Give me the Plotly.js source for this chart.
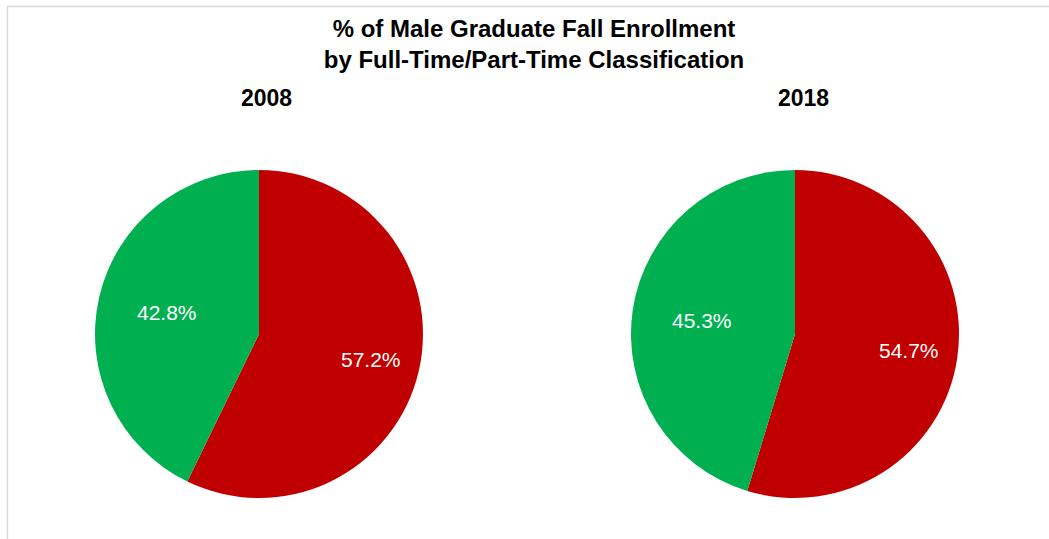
<!DOCTYPE html>
<html>
<head>
<meta charset="utf-8">
<script src="https://cdn.plot.ly/plotly-3.0.1.min.js"></script>
<style>html,body{margin:0;padding:0;background:#fff;}#chart{width:1049px;height:539px;}</style>
</head>
<body>
<div id="chart"></div>
<script>
const years = ["2008", "2018"];
const categories = ["Part-Time", "Full-Time"];
const values2008 = [57.2, 42.8];
const values2018 = [54.7, 45.3];
const colors = ["#C00000", "#00B050"];

const W = 1049, H = 539;
const R = 164;
const centers = [[259, 334], [795, 334]];
const labelRadius = [0.70, 0.575];
const FONT = "Liberation Sans, Arial, sans-serif";

function dom(cx, cy, r) {
  return { x: [(cx - r) / W, (cx + r) / W], y: [(H - cy - r) / H, (H - cy + r) / H] };
}

function pieTrace(vals, idx) {
  const c = centers[idx];
  return {
    type: "pie",
    labels: categories,
    values: vals,
    sort: false,
    direction: "clockwise",
    rotation: 0,
    marker: { colors: colors, line: { width: 0 } },
    textinfo: "none",
    hoverinfo: "label+percent",
    showlegend: false,
    name: years[idx],
    domain: dom(c[0], c[1], R)
  };
}

function labelAnnotations(vals, idx) {
  const c = centers[idx];
  const total = vals.reduce((a, b) => a + b, 0);
  let cum = 0;
  return vals.map((v, i) => {
    const mid = (cum + v / 2) / total * 2 * Math.PI;
    cum += v;
    const px = c[0] + labelRadius[i] * R * Math.sin(mid);
    const py = c[1] - labelRadius[i] * R * Math.cos(mid);
    return {
      text: v.toFixed(1) + "%",
      x: px / W, y: 1 - py / H, xref: "paper", yref: "paper",
      xanchor: "center", yanchor: "middle", showarrow: false,
      font: { size: 21, color: "#ffffff", family: FONT }
    };
  });
}

const data = [pieTrace(values2008, 0), pieTrace(values2018, 1)];

const layout = {
  width: W, height: H,
  margin: { l: 0, r: 0, t: 0, b: 0 },
  paper_bgcolor: "#ffffff",
  font: { family: FONT, color: "#000000" },
  title: {
    text: "<b>% of Male Graduate Fall Enrollment<br>by Full-Time/Part-Time Classification</b>",
    font: { size: 24, color: "#000000", family: FONT },
    x: 534 / W, xanchor: "center",
    y: 1 - 37 / H, yanchor: "top", yref: "container"
  },
  annotations: [
    { text: "<b>" + years[0] + "</b>", x: 266 / W, y: 1 - 98 / H, xref: "paper", yref: "paper", xanchor: "center", yanchor: "middle", showarrow: false, font: { size: 23, color: "#000000", family: FONT } },
    { text: "<b>" + years[1] + "</b>", x: 803 / W, y: 1 - 98 / H, xref: "paper", yref: "paper", xanchor: "center", yanchor: "middle", showarrow: false, font: { size: 23, color: "#000000", family: FONT } }
  ].concat(labelAnnotations(values2008, 0), labelAnnotations(values2018, 1)),
  shapes: [
    { type: "line", xref: "paper", yref: "paper", x0: 7.5 / W, x1: 7.5 / W, y0: 0, y1: 1 - 6 / H, line: { color: "#d9d9d9", width: 1.5 } },
    { type: "line", xref: "paper", yref: "paper", x0: 7 / W, x1: 1, y0: 1 - 6.5 / H, y1: 1 - 6.5 / H, line: { color: "#d9d9d9", width: 1.5 } }
  ]
};

Plotly.newPlot("chart", data, layout, { displayModeBar: false, staticPlot: true });
</script>
</body>
</html>
